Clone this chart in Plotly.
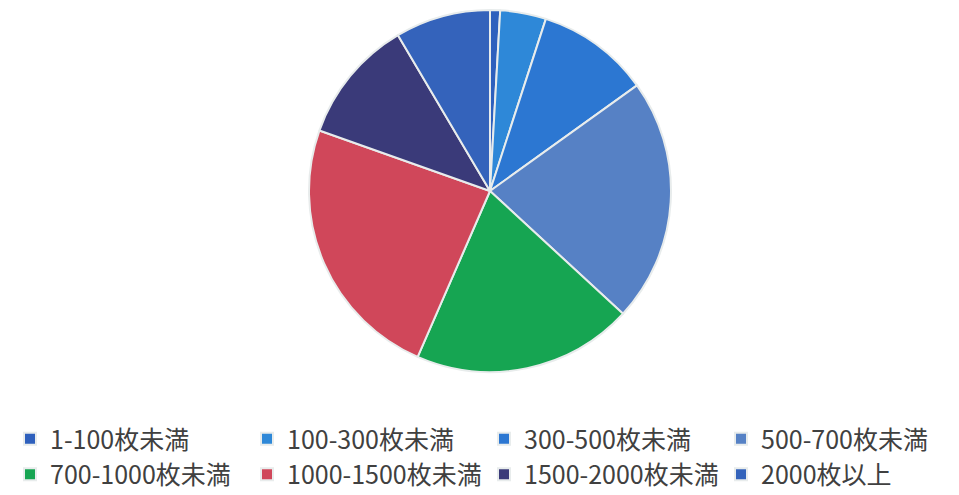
import plotly.graph_objects as go

# 配布枚数別の構成比 (%)
labels = [
    "1-100枚未満",
    "100-300枚未満",
    "300-500枚未満",
    "500-700枚未満",
    "700-1000枚未満",
    "1000-1500枚未満",
    "1500-2000枚未満",
    "2000枚以上",
]
shares = [0.9, 4.1, 10.1, 21.8, 19.7, 23.9, 11.1, 8.5]
colors = [
    "#2e60bd",
    "#2e88d8",
    "#2c77d2",
    "#5681c5",
    "#16a552",
    "#d0475a",
    "#3a3a79",
    "#3463bb",
]

W, H = 959, 495
cx, cy, r = 490, 191, 181

fig = go.Figure(
    go.Pie(
        labels=labels,
        values=shares,
        sort=False,
        direction="clockwise",
        rotation=0,
        textinfo="none",
        hoverinfo="label+percent",
        marker=dict(colors=colors, line=dict(color="#e8ecec", width=2)),
        domain=dict(
            x=[(cx - r) / W, (cx + r) / W],
            y=[(H - cy - r) / H, (H - cy + r) / H],
        ),
    )
)

fig.update_layout(
    width=W,
    height=H,
    margin=dict(l=0, r=0, t=0, b=0, autoexpand=False),
    paper_bgcolor="white",
    plot_bgcolor="white",
    font=dict(family="Noto Sans CJK JP", color="#404040"),
    legend=dict(
        orientation="h",
        x=10 / W,
        xanchor="left",
        y=(H - 416) / H,
        yanchor="top",
        entrywidth=192,
        entrywidthmode="pixels",
        font=dict(size=25, family="Noto Sans CJK JP", color="#404040"),
        bgcolor="rgba(0,0,0,0)",
    ),
)

# drop the default 8px body margin so the figure sits at the page origin
fig.write_html(
    "out.html",
    config={"displayModeBar": False},
    post_script="document.body.style.margin='0';",
)
